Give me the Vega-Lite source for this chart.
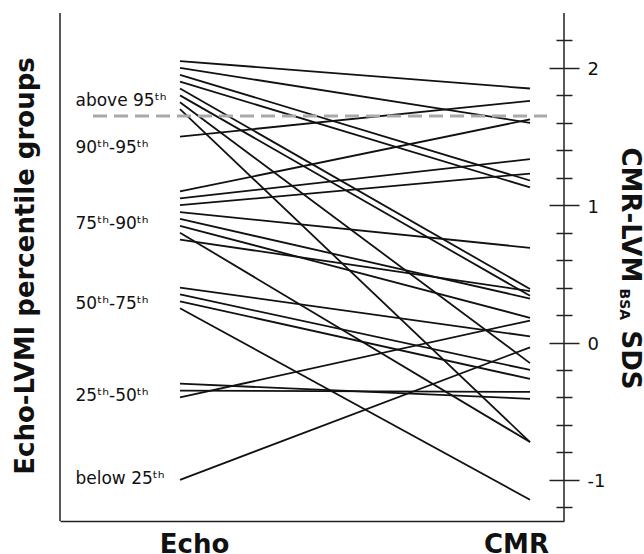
{
  "$schema": "https://vega.github.io/schema/vega-lite/v6.json",
  "width": 504,
  "height": 508,
  "autosize": {"type": "none"},
  "padding": {"left": 60, "top": 13, "right": 80, "bottom": 33},
  "background": "white",
  "config": {
    "view": {"stroke": null},
    "axis": {"grid": false, "labelFont": "DejaVu Sans", "titleFont": "DejaVu Sans", "labelColor": "#111", "titleColor": "#111", "domainColor": "#222", "tickColor": "#222"}
  },
  "resolve": {"scale": {"x": "independent"}, "axis": {"y": "independent"}},
  "layer": [
    {
      "data": {"values": [
        {"id": 1, "method": "Echo", "sds": 2.05}, {"id": 1, "method": "CMR", "sds": 1.85},
        {"id": 2, "method": "Echo", "sds": 2.0}, {"id": 2, "method": "CMR", "sds": 1.6},
        {"id": 3, "method": "Echo", "sds": 1.95}, {"id": 3, "method": "CMR", "sds": 1.18},
        {"id": 4, "method": "Echo", "sds": 1.9}, {"id": 4, "method": "CMR", "sds": 1.13},
        {"id": 5, "method": "Echo", "sds": 1.85}, {"id": 5, "method": "CMR", "sds": 0.39},
        {"id": 6, "method": "Echo", "sds": 1.8}, {"id": 6, "method": "CMR", "sds": 0.34},
        {"id": 7, "method": "Echo", "sds": 1.75}, {"id": 7, "method": "CMR", "sds": -0.15},
        {"id": 8, "method": "Echo", "sds": 1.7}, {"id": 8, "method": "CMR", "sds": -0.725},
        {"id": 9, "method": "Echo", "sds": 1.5}, {"id": 9, "method": "CMR", "sds": 1.76},
        {"id": 10, "method": "Echo", "sds": 1.1}, {"id": 10, "method": "CMR", "sds": 1.625},
        {"id": 11, "method": "Echo", "sds": 1.05}, {"id": 11, "method": "CMR", "sds": 1.335},
        {"id": 12, "method": "Echo", "sds": 1.0}, {"id": 12, "method": "CMR", "sds": 1.23},
        {"id": 13, "method": "Echo", "sds": 0.95}, {"id": 13, "method": "CMR", "sds": 0.69},
        {"id": 14, "method": "Echo", "sds": 0.9}, {"id": 14, "method": "CMR", "sds": 0.32},
        {"id": 15, "method": "Echo", "sds": 0.85}, {"id": 15, "method": "CMR", "sds": 0.18},
        {"id": 16, "method": "Echo", "sds": 0.8}, {"id": 16, "method": "CMR", "sds": -0.725},
        {"id": 17, "method": "Echo", "sds": 0.75}, {"id": 17, "method": "CMR", "sds": 0.375},
        {"id": 18, "method": "Echo", "sds": 0.4}, {"id": 18, "method": "CMR", "sds": 0.045},
        {"id": 19, "method": "Echo", "sds": 0.35}, {"id": 19, "method": "CMR", "sds": -0.2},
        {"id": 20, "method": "Echo", "sds": 0.3}, {"id": 20, "method": "CMR", "sds": -0.265},
        {"id": 21, "method": "Echo", "sds": 0.25}, {"id": 21, "method": "CMR", "sds": -1.145},
        {"id": 22, "method": "Echo", "sds": -0.3}, {"id": 22, "method": "CMR", "sds": -0.41},
        {"id": 23, "method": "Echo", "sds": -0.35}, {"id": 23, "method": "CMR", "sds": -0.36},
        {"id": 24, "method": "Echo", "sds": -0.4}, {"id": 24, "method": "CMR", "sds": 0.16},
        {"id": 25, "method": "Echo", "sds": -1.0}, {"id": 25, "method": "CMR", "sds": -0.035}
      ]},
      "mark": {"type": "line", "color": "#111", "strokeWidth": 1.8},
      "encoding": {
        "x": {
          "field": "method", "type": "nominal",
          "scale": {"type": "point", "domain": ["Echo", "CMR"], "padding": 0.22, "align": 0.7792},
          "axis": {
            "orient": "bottom", "title": null, "ticks": false, "domain": true, "domainWidth": 1.5,
            "labelAngle": 0, "labelFontSize": 26, "labelFontWeight": "bold", "labelPadding": 10,
            "labelBaseline": "top",
            "labelOffset": {"condition": {"test": "datum.value === 'Echo'", "value": 14}, "value": -14}
          }
        },
        "y": {
          "field": "sds", "type": "quantitative",
          "scale": {"domain": [-1.3, 2.4], "nice": false, "zero": false},
          "axis": {
            "orient": "right",
            "values": [-1.2, -1, -0.8, -0.6, -0.4, -0.2, 0, 0.2, 0.4, 0.6, 0.8, 1, 1.2, 1.4, 1.6, 1.8, 2, 2.2],
            "domain": false,
            "ticks": true,
            "tickWidth": 1.5,
            "tickSize": {"condition": {"test": "datum.value === round(datum.value)", "value": 15}, "value": 8},
            "labelExpr": "datum.value === round(datum.value) ? (datum.value < 0 ? '-' + abs(datum.value) : '' + datum.value) : ''",
            "labelFontSize": 18, "labelPadding": 8, "labelOffset": 2,
            "labelOverlap": false, "labelFlush": false,
            "title": "CMR-LVM", "titleFontSize": 26, "titleFontWeight": "bold",
            "titleAngle": 90, "titleAlign": "left", "titleBaseline": "alphabetic",
            "titleX": 57, "titleY": 134
          }
        },
        "detail": {"field": "id", "type": "nominal"}
      }
    },
    {
      "data": {"values": [{}]},
      "mark": {"type": "rule", "color": "#a9a9a9", "strokeWidth": 3, "strokeDash": [14, 7]},
      "encoding": {
        "x": {"datum": 0.0655, "type": "quantitative", "scale": {"domain": [0, 1]}, "axis": null},
        "x2": {"datum": 0.9663},
        "y": {
          "datum": 1.65, "type": "quantitative",
          "scale": {"domain": [-1.3, 2.4], "nice": false, "zero": false},
          "axis": {
            "orient": "right",
            "values": [-1.2, -1, -0.8, -0.6, -0.4, -0.2, 0, 0.2, 0.4, 0.6, 0.8, 1, 1.2, 1.4, 1.6, 1.8, 2, 2.2],
            "domain": false, "labels": false, "ticks": true, "tickWidth": 1.5,
            "tickSize": {"condition": {"test": "datum.value === round(datum.value)", "value": -15}, "value": -8},
            "title": "BSA", "titleFontSize": 14, "titleFontWeight": "bold",
            "titleAngle": 90, "titleAlign": "left", "titleBaseline": "alphabetic",
            "titleX": 55, "titleY": 275
          }
        }
      }
    },
    {
      "data": {"values": [{}]},
      "mark": {"type": "rule", "color": "#222", "strokeWidth": 1.5},
      "encoding": {
        "x": {"datum": 0, "type": "quantitative", "scale": {"domain": [0, 1]}, "axis": null},
        "y": {
          "datum": 2.4, "type": "quantitative",
          "scale": {"domain": [-1.3, 2.4], "nice": false, "zero": false},
          "axis": {
            "orient": "left",
            "values": [1.725, 1.386, 0.833, 0.25, -0.424, -1.028],
            "labelExpr": "datum.value > 1.6 ? 'above 95ᵗʰ' : datum.value > 1.2 ? '90ᵗʰ-95ᵗʰ' : datum.value > 0.6 ? '75ᵗʰ-90ᵗʰ' : datum.value > 0 ? '50ᵗʰ-75ᵗʰ' : datum.value > -0.7 ? '25ᵗʰ-50ᵗʰ' : 'below 25ᵗʰ'",
            "ticks": false, "tickSize": 0, "domain": false,
            "labelAlign": "left", "labelBaseline": "alphabetic", "labelPadding": -15,
            "labelFontSize": 17, "labelOverlap": false, "labelFlush": false,
            "title": "Echo-LVMI percentile groups", "titleFontSize": 26, "titleFontWeight": "bold",
            "titleAngle": -90, "titleAlign": "center", "titleBaseline": "alphabetic",
            "titleX": -27, "titleY": 252.5
          }
        },
        "y2": {"datum": -1.3}
      }
    },
    {
      "data": {"values": [{}]},
      "mark": {"type": "rule", "color": "#222", "strokeWidth": 1.5},
      "encoding": {
        "x": {"datum": 1, "type": "quantitative", "scale": {"domain": [0, 1]}, "axis": null},
        "y": {
          "datum": 2.4, "type": "quantitative",
          "scale": {"domain": [-1.3, 2.4], "nice": false, "zero": false},
          "axis": {
            "orient": "right", "ticks": false, "labels": false, "domain": false,
            "title": "SDS", "titleFontSize": 26, "titleFontWeight": "bold",
            "titleAngle": 90, "titleAlign": "left", "titleBaseline": "alphabetic",
            "titleX": 57, "titleY": 317
          }
        },
        "y2": {"datum": -1.3}
      }
    }
  ]
}
